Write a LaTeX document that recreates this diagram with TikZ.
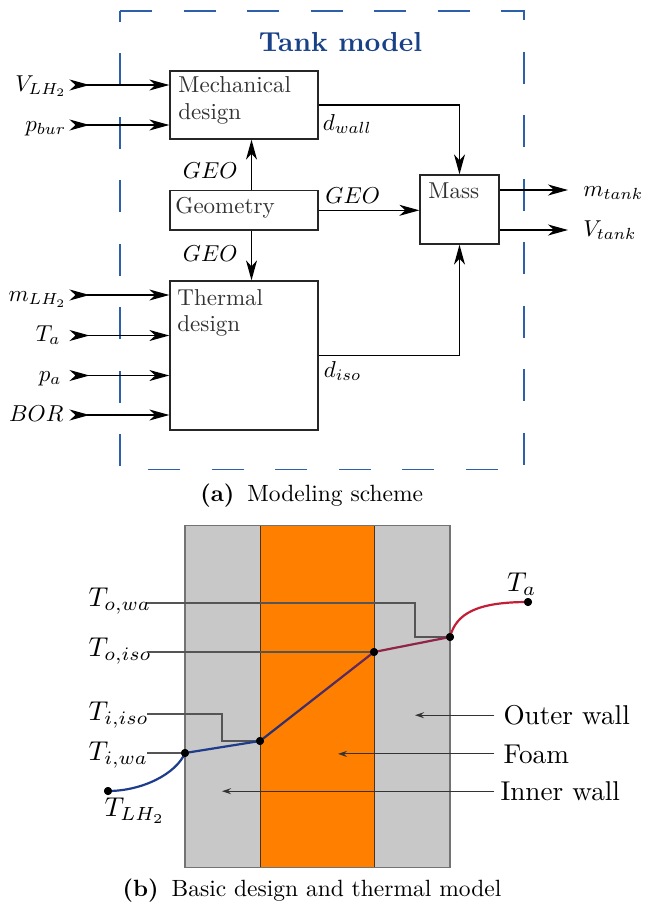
\RequirePackage{fix-cm}
\documentclass[tikz,border=0pt]{standalone}
\usetikzlibrary{arrows.meta,calc}
\definecolor{tankblue}{RGB}{25,65,135}
\definecolor{dashblue}{RGB}{45,95,170}
\definecolor{wallgray}{RGB}{200,200,200}
\definecolor{foamorange}{RGB}{255,128,0}
\definecolor{coldblue}{RGB}{30,60,140}
\definecolor{hotred}{RGB}{195,30,55}
\definecolor{diagA}{RGB}{40,50,115}
\definecolor{diagB}{RGB}{100,40,90}
\definecolor{warmmid}{RGB}{145,35,70}
\definecolor{guidegray}{RGB}{85,85,85}
\definecolor{boxtext}{RGB}{50,50,50}
\begin{document}
\begin{tikzpicture}[x=1pt,y=-1pt,
  blk/.style={draw=black!85, line width=1.3pt, inner sep=0pt, minimum width=148pt},
  atext/.style={font=\fontsize{10}{12}\selectfont, scale=2.3, text=boxtext, inner sep=0pt, anchor=base west},
  mlab/.style={font=\fontsize{10}{12}\selectfont, scale=2.3, inner sep=0pt},
  inarr/.style={line width=1.3pt, {Stealth[reversed,length=20pt,width=11pt,inset=6pt]}-{Stealth[length=20pt,width=11pt,inset=6pt]}},
  outarr/.style={line width=1.3pt, -{Stealth[length=20pt,width=11pt,inset=6pt]}},
  capt/.style={font=\fontsize{10}{12}\selectfont, scale=2.35, inner sep=0pt, anchor=base},
  tlab/.style={font=\fontsize{10}{12}\selectfont, scale=2.72, inner sep=0pt, anchor=base west},
  wlab/.style={font=\fontsize{10}{12}\selectfont, scale=2.72, inner sep=0pt, anchor=base west},
  dot/.style={circle, fill=black, inner sep=0pt, minimum size=8pt},
  guide/.style={draw=guidegray, line width=1.1pt},
  smallarr/.style={draw=black!80, line width=1.1pt, -{Stealth[length=9pt,width=6pt,inset=3pt]}},
  tline/.style={line width=2.2pt, line cap=round, line join=round}
]
\useasboundingbox (0,0) rectangle (647,906);

% ---------------- (a) Modeling scheme ----------------
\draw[dashblue, line width=1.8pt, dash pattern=on 32pt off 31.5pt]
  (120,11) -- (524,11) -- (524,469.5) -- (120,469.5) -- cycle;
\node[font=\fontsize{10}{12}\selectfont\bfseries, scale=2.75, text=tankblue, inner sep=0pt, anchor=base] (title) at (340.5,51.7) {Tank model};

\node[blk, minimum height=68pt] (mech) at (244,105) {};
\node[blk, minimum height=39.3pt] (geom) at (244,210.3) {};
\node[blk, minimum height=149pt] (therm) at (244,355.5) {};
\node[blk, minimum width=79pt, minimum height=69pt] (mass) at (459.5,209.5) {};

\node[atext] (mechA) at (178,92.3) {Mechanical};
\node[atext] (mechB) at (178,119) {design};
\node[atext] (geomT) at (175,213.3) {Geometry};
\node[atext] (thA) at (177,305) {Thermal};
\node[atext] (thB) at (177,331.5) {design};
\node[atext] (massT) at (428,198.3) {Mass};

% inputs
\node[mlab, anchor=base east] (vlh) at (67,91) {$V_{LH_2}$};
\node[mlab, anchor=base east] (pbur) at (66.5,131) {$p_{bur}$};
\node[mlab, anchor=base east] (mlh) at (67,301.5) {$m_{LH_2}$};
\node[mlab, anchor=base east] (tain) at (61,341.5) {$T_a$};
\node[mlab, anchor=base east] (pain) at (62,381.5) {$p_a$};
\node[mlab, anchor=base east] (bor) at (64,421) {$BOR$};
\coordinate (vin) at (69.5,85);
\coordinate (pin) at (69.5,125);
\coordinate (min) at (69.5,295);
\coordinate (tin) at (69.5,335.5);
\coordinate (paa) at (69.5,375.5);
\coordinate (bin) at (69.5,415);
\draw[inarr] (vin) -- (vin -| mech.west);
\draw[inarr] (pin) -- (pin -| mech.west);
\draw[inarr] (min) -- (min -| therm.west);
\draw[inarr] (tin) -- (tin -| therm.west);
\draw[inarr] (paa) -- (paa -| therm.west);
\draw[inarr] (bin) -- (bin -| therm.west);

% internal connections
\draw[outarr] (mech.east) -| (mass.north);
\draw[outarr] (therm.east) -| (mass.south);
\draw[outarr] (geom.east) -- (geom.east -| mass.west);
\draw[outarr] ([xshift=7.5pt]geom.north) -- ([xshift=7.5pt]mech.south);
\draw[outarr] ([xshift=7.5pt]geom.south) -- ([xshift=7.5pt]therm.north);

\node[mlab, anchor=base west] (dwall) at (322.5,130) {$d_{wall}$};
\node[mlab, anchor=base west] (diso) at (323.5,377) {$d_{iso}$};
\node[mlab, anchor=base west] (geo1) at (182.5,178.3) {$GEO$};
\node[mlab, anchor=base west] (geo2) at (182.5,261.7) {$GEO$};
\node[mlab, anchor=base west] (geo3) at (325,203.3) {$GEO$};

% outputs
\coordinate (mout) at (568,190);
\coordinate (vout) at (568,230);
\draw[outarr] (mout -| mass.east) -- (mout);
\draw[outarr] (vout -| mass.east) -- (vout);
\node[mlab, anchor=base west] (mtank) at (583,196) {$m_{tank}$};
\node[mlab, anchor=base west] (vtank) at (583,236) {$V_{tank}$};

\node[capt] (capa) at (311.7,501.5) {\textbf{(a)}\hspace{0.55em}Modeling scheme};

% ---------------- (b) Basic design and thermal model ----------------
\fill[wallgray] (185,525.7) rectangle (260,867.7);
\fill[foamorange] (260,525.7) rectangle (374,867.7);
\fill[wallgray] (374,525.7) rectangle (450,867.7);
\draw[draw=black!60!brown, line width=1pt] (260,525.7) -- (260,867.7);
\draw[draw=black!60!brown, line width=1pt] (374,525.7) -- (374,867.7);
\draw[draw=black!55, line width=1.5pt] (185,525.7) rectangle (450,867.7);

\node[dot] (dLH) at (108,791) {};
\node[dot] (dIW) at (185,753) {};
\node[dot] (dII) at (260,741) {};
\node[dot] (dOI) at (374,652) {};
\node[dot] (dOW) at (450,637) {};
\node[dot] (dTa) at (528,602) {};

\node[tlab] (tow) at (88,606.7) {$T_{o,wa}$};
\node[tlab] (toi) at (88,656.7) {$T_{o,iso}$};
\node[tlab] (tii) at (88,720) {$T_{i,iso}$};
\node[tlab] (tiw) at (88,760) {$T_{i,wa}$};
\node[tlab] (tlh) at (104,816.7) {$T_{LH_2}$};
\node[tlab] (tat) at (506.7,591.7) {$T_a$};

\coordinate (gOW) at (147,603);
\coordinate (gOI) at (147,652);
\coordinate (gII) at (147,714);
\coordinate (gIW) at (147,753);
\draw[guide] (gOW) -- ++(268,0) -- ++(0,34) -- (dOW.center);
\draw[guide] (gOI) -- (dOI.center);
\draw[guide] (gII) -- ++(75,0) -- ++(0,27) -- (dII.center);
\draw[guide] (gIW) -- (dIW.center);

\draw[tline, coldblue] (dLH.center) .. controls (142,791) and (176,774) .. (dIW.center);
\draw[tline, coldblue] (dIW.center) -- (dII.center);
\foreach \i in {0,...,5}{
  \pgfmathsetmacro{\pa}{\i/6}
  \pgfmathsetmacro{\pb}{(\i+1)/6}
  \pgfmathtruncatemacro{\pc}{100*\i/5}
  \draw[tline, color=diagB!\pc!diagA] ($(dII.center)!\pa!(dOI.center)$) -- ($(dII.center)!\pb!(dOI.center)$);
}
\draw[tline, warmmid] (dOI.center) -- (dOW.center);
\draw[tline, hotred] (dOW.center) .. controls (456,614) and (476,602) .. (dTa.center);

\node[dot] at (dLH) {};
\node[dot] at (dIW) {};
\node[dot] at (dII) {};
\node[dot] at (dOI) {};
\node[dot] at (dOW) {};
\node[dot] at (dTa) {};

\node[wlab] (outer) at (503,724.5) {Outer wall};
\node[wlab] (foam) at (503,763) {Foam};
\node[wlab] (innerl) at (500,800.5) {Inner wall};
\draw[smallarr] ([xshift=-9pt]outer.west) -- ++(-79,0);
\draw[smallarr] ([xshift=-9pt]foam.west) -- ++(-156,0);
\draw[smallarr] ([xshift=-6pt]innerl.west) -- ++(-272,0);

\node[capt] (capb) at (312,896.5) {\textbf{(b)}\hspace{0.55em}Basic design and thermal model};
\end{tikzpicture}
\end{document}
